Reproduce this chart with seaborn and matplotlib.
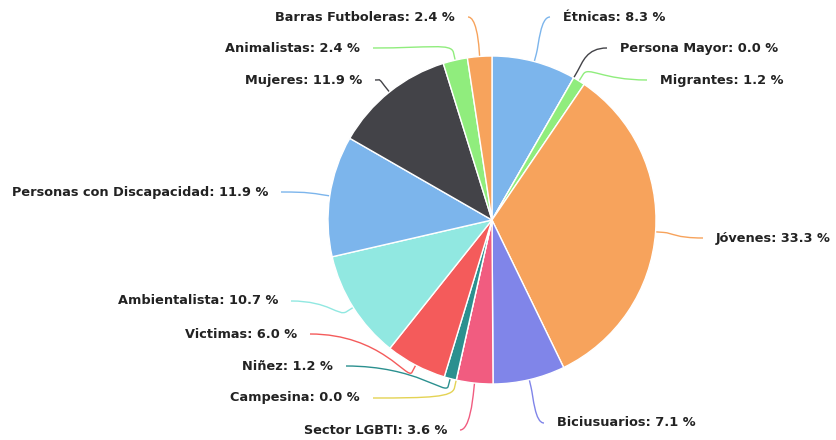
import numpy as np
import matplotlib
matplotlib.use("Agg")
import matplotlib.pyplot as plt
from matplotlib.path import Path
from matplotlib.patches import PathPatch
import seaborn as sns

# ---- data ----
categories = ["Étnicas", "Persona Mayor", "Migrantes", "Jóvenes", "Biciusuarios",
              "Sector LGBTI", "Campesina", "Niñez", "Victimas", "Ambientalista",
              "Personas con Discapacidad", "Mujeres", "Animalistas", "Barras Futboleras"]
values = [8.3, 0.0, 1.2, 33.3, 7.1, 3.6, 0.0, 1.2, 6.0, 10.7, 11.9, 11.9, 2.4, 2.4]

# ---- layout (pixel positions of label text, y from top) ----
label_x = [563, 620, 660, 716, 557, 447, 360, 333, 297, 278, 268, 362, 360, 455]
label_y = [17, 48, 80, 238, 423, 430, 398, 366, 334, 301, 192, 80, 48, 17]
label_side = ["R", "R", "R", "R", "R", "L", "L", "L", "L", "L", "L", "L", "L", "L"]

W, H = 836, 440
CX, CY, RAD = 492, 220, 164

sns.set_theme(style="white")
plt.rcParams['font.family'] = ['DejaVu Sans']

base = ['#7cb5ec', '#434348', '#90ed7d', '#f7a35c', '#8085e9',
        '#f15c80', '#e4d354', '#2b908f', '#f45b5b', '#91e8e1']
colors = [base[i % len(base)] for i in range(len(categories))]

fig = plt.figure(figsize=(W / 100, H / 100), dpi=100)
ax = fig.add_axes([0, 0, 1, 1])
wedges, _ = ax.pie(values, colors=colors, startangle=90, counterclock=False,
                   center=(CX, H - CY), radius=RAD,
                   wedgeprops=dict(edgecolor='white', linewidth=1))
ax.set_xlim(0, W)
ax.set_ylim(0, H)
ax.set_aspect('equal')
ax.axis('off')

for w, cat, val, lx, ly, side, col in zip(wedges, categories, values,
                                          label_x, label_y, label_side, colors):
    mid = np.deg2rad((w.theta1 + w.theta2) / 2)
    cx, cy = w.center
    r = w.r
    E = np.array([cx + r * np.cos(mid), cy + r * np.sin(mid)])
    B = np.array([cx + (r + 8) * np.cos(mid), cy + (r + 8) * np.sin(mid)])
    yd = H - ly
    if side == "R":
        P0 = np.array([lx - 13, yd])
        ha = 'left'
    else:
        P0 = np.array([lx + 13, yd])
        ha = 'right'
    C1 = np.array([P0[0] + (B[0] - P0[0]) * 0.7, yd])
    C2 = B + (B - E) * 1.2
    verts = [tuple(P0), tuple(C1), tuple(C2), tuple(B), tuple(E)]
    codes = [Path.MOVETO, Path.CURVE4, Path.CURVE4, Path.CURVE4, Path.LINETO]
    ax.add_patch(PathPatch(Path(verts, codes), fill=False, edgecolor=col,
                           linewidth=1.0, zorder=0.5))
    ax.text(lx, yd, f"{cat}: {val:.1f} %", ha=ha, va='center',
            fontsize=9.3, fontweight='bold', color='#222222')

fig.savefig("out.png", dpi=100)
